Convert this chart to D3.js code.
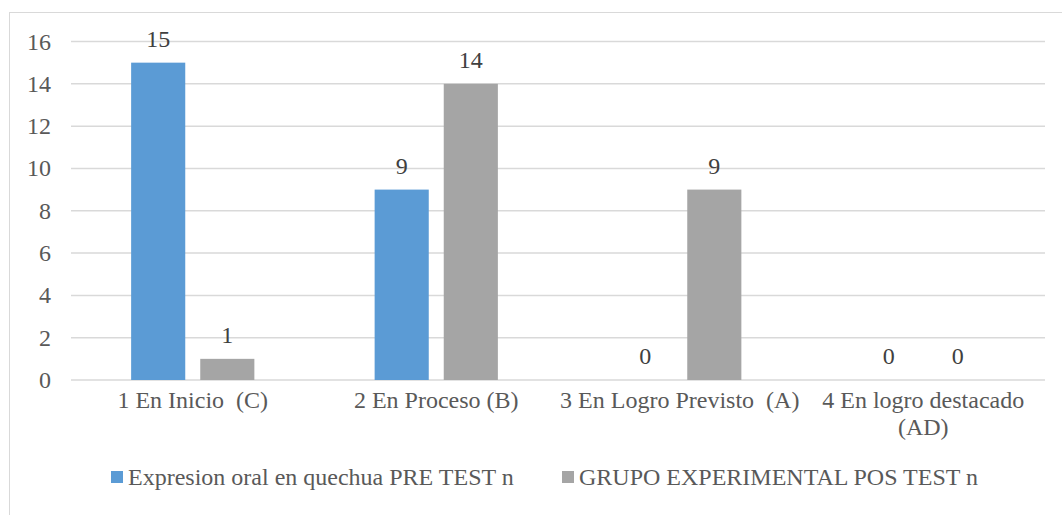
<!DOCTYPE html>
<html>
<head>
<meta charset="utf-8">
<script src="https://cdn.jsdelivr.net/npm/d3@7"></script>
<style>
  body { margin: 0; background: #fff; }
  svg text { font-family: "Liberation Serif", "Times New Roman", serif; }
</style>
</head>
<body>
<div id="chart"></div>
<script>
const categories = ["1 En Inicio  (C)", "2 En Proceso (B)", "3 En Logro Previsto  (A)", "4 En logro destacado (AD)"];
const seriesNames = ["Expresion oral en quechua PRE TEST n", "GRUPO EXPERIMENTAL POS TEST n"];
const preTest = [15, 9, 0, 0];
const posTest = [1, 14, 9, 0];
const yTicks = [0, 2, 4, 6, 8, 10, 12, 14, 16];
const colors = ["#5b9bd5", "#a5a5a5"];

const width = 1062, height = 515;
const margin = { top: 41, right: 17, bottom: 135, left: 71 };
const fontSize = 24;

const svg = d3.select("#chart").append("svg")
  .attr("width", width).attr("height", height);

// outer chart border
svg.append("rect")
  .attr("x", 9.5).attr("y", 12.5)
  .attr("width", 1070).attr("height", 520)
  .attr("fill", "none").attr("stroke", "#d9d9d9");

const x0 = d3.scaleBand()
  .domain(categories)
  .range([margin.left, width - margin.right]);

const x1 = d3.scaleBand()
  .domain(seriesNames)
  .range([0, x0.bandwidth()])
  .paddingInner(0.217)
  .paddingOuter(0.87);

const y = d3.scaleLinear()
  .domain([0, 16])
  .range([height - margin.bottom, margin.top + 0.5]);

// gridlines
svg.append("g")
  .selectAll("line")
  .data(yTicks)
  .join("line")
  .attr("x1", margin.left).attr("x2", width - margin.right)
  .attr("y1", (d) => y(d)).attr("y2", (d) => y(d))
  .attr("stroke", "#d9d9d9").attr("stroke-width", 1.5);

// y tick labels
svg.append("g")
  .selectAll("text")
  .data(yTicks)
  .join("text")
  .attr("x", 51)
  .attr("y", (d) => y(d) + 8)
  .attr("text-anchor", "end")
  .attr("font-size", fontSize)
  .attr("fill", "#595959")
  .text((d) => d);

const rows = categories.map((c, i) => ({
  cat: c,
  values: [
    { s: seriesNames[0], v: preTest[i], c: colors[0] },
    { s: seriesNames[1], v: posTest[i], c: colors[1] }
  ]
}));

const groups = svg.append("g")
  .selectAll("g")
  .data(rows)
  .join("g")
  .attr("transform", (d) => `translate(${x0(d.cat)},0)`);

groups.selectAll("rect")
  .data((d) => d.values)
  .join("rect")
  .attr("x", (d) => x1(d.s))
  .attr("width", x1.bandwidth())
  .attr("y", (d) => y(d.v))
  .attr("height", (d) => y(0) - y(d.v))
  .attr("fill", (d) => d.c);

groups.selectAll("text")
  .data((d) => d.values)
  .join("text")
  .attr("x", (d) => x1(d.s) + x1.bandwidth() / 2)
  .attr("y", (d) => y(d.v) - 16)
  .attr("text-anchor", "middle")
  .attr("font-size", fontSize)
  .attr("fill", "#404040")
  .text((d) => d.v);

// category labels
const catLabels = svg.append("g")
  .selectAll("text")
  .data(categories)
  .join("text")
  .attr("x", (d) => x0(d) + x0.bandwidth() / 2)
  .attr("y", 408)
  .attr("text-anchor", "middle")
  .attr("font-size", fontSize)
  .attr("fill", "#595959");

catLabels.each(function (d) {
  const t = d3.select(this);
  const lines = d === "4 En logro destacado (AD)" ? ["4 En logro destacado", "(AD)"] : [d];
  t.selectAll("tspan")
    .data(lines)
    .join("tspan")
    .attr("x", x0(d) + x0.bandwidth() / 2)
    .attr("dy", (l, i) => (i === 0 ? 0 : 27))
    .style("white-space", "pre")
    .text((l) => l);
});

// legend
const legendX = [111, 562];
const legend = svg.append("g")
  .selectAll("g")
  .data(seriesNames)
  .join("g")
  .attr("transform", (d, i) => `translate(${legendX[i]},477)`);

legend.append("rect")
  .attr("x", 0).attr("y", -6)
  .attr("width", 12).attr("height", 12)
  .attr("fill", (d, i) => colors[i]);

legend.append("text")
  .attr("x", 17)
  .attr("y", 8)
  .attr("font-size", fontSize)
  .attr("fill", "#595959")
  .text((d) => d);
</script>
</body>
</html>
